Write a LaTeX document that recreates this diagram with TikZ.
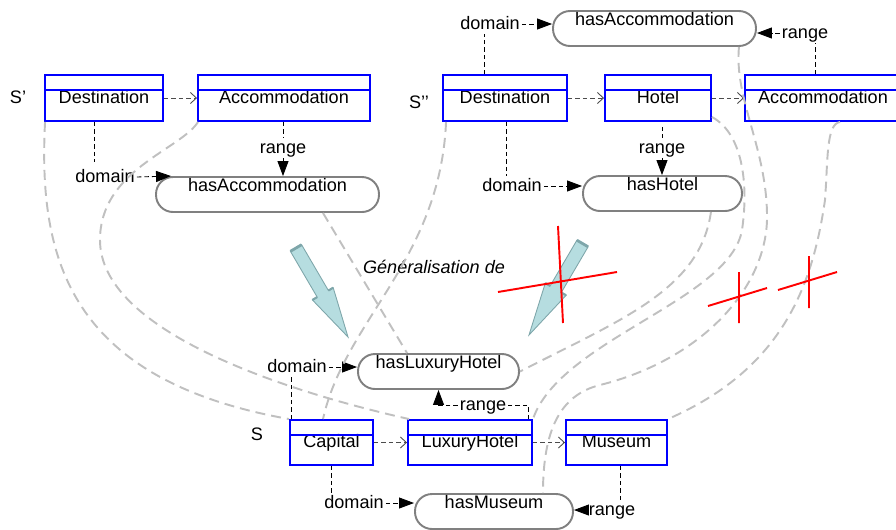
\documentclass[tikz,border=0pt]{standalone}
\usepackage{fontspec}
\setmainfont{Liberation Sans}
\usepackage{tikz}
\usetikzlibrary{arrows.meta}

\definecolor{mapgray}{RGB}{192,192,192}
\definecolor{genfill}{RGB}{182,221,224}
\definecolor{genedge}{RGB}{126,166,170}

\tikzset{
  classbox/.style={draw=blue, line width=1.1pt, minimum height=0.92cm, inner sep=0pt, text height=0.26cm, text depth=0.06cm},
  prop/.style={draw=gray, line width=1.1pt, rounded corners=0.34cm, minimum height=0.7cm, inner ysep=0pt, text height=0.29cm, text depth=0.41cm},
  lbl/.style={inner sep=1pt, text height=0.26cm, text depth=0.06cm},
  link/.style={draw=black, line width=0.5pt, dash pattern=on 0.09cm off 0.06cm},
  assoc/.style={link, draw=black!70, -{Straight Barb[length=0.12cm, width=0.22cm]}},
  tolink/.style={link, -{Triangle[length=0.3cm, width=0.22cm]}},
  map/.style={draw=mapgray, line width=1.1pt, dash pattern=on 0.2cm off 0.12cm},
  genarrow/.style={fill=genfill, draw=genedge, line width=0.5pt},
  cross/.style={red, line width=1.1pt},
}

\begin{document}
\begin{tikzpicture}[x=0.02cm, y=-0.02cm, font=\fontsize{10.3pt}{12pt}\selectfont]
    \useasboundingbox (0,0) rectangle (896,529);

    % S'
    \node[lbl] (s1) at (18,98) {S’};
    \node[classbox, minimum width=2.36cm] (dest1) at (104,98) {Destination};
    \node[classbox, minimum width=3.44cm] (acc1) at (284,98) {Accommodation};
    \node[prop, minimum width=4.46cm] (hasacc1) at (267.5,194.5) {hasAccommodation};
    \node[lbl] (dom1) at (105,177) {domain};
    \node[lbl] (rng1) at (283,148) {range};

    % S''
    \node[lbl] (s2) at (419,103) {S’’};
    \node[classbox, minimum width=2.48cm] (dest2) at (505,98) {Destination};
    \node[classbox, minimum width=2.12cm] (hotel2) at (658,98) {Hotel};
    \node[classbox, minimum width=3.12cm] (acc2) at (823,98) {Accommodation};
    \node[prop, minimum width=4.06cm] (hasacc2) at (654.5,28.5) {hasAccommodation};
    \node[prop, minimum width=3.18cm] (hashotel2) at (662.5,193.5) {hasHotel};
    \node[lbl] (dom2) at (490,24) {domain};
    \node[lbl] (rng2) at (805,33) {range};
    \node[lbl] (dom3) at (512,186) {domain};
    \node[lbl] (rng3) at (662,148) {range};

    % S
    \node[lbl] (s0) at (257,435) {S};
    \node[classbox, minimum width=1.66cm, minimum height=0.9cm] (cap0) at (331.5,442.5) {Capital};
    \node[classbox, minimum width=2.48cm, minimum height=0.9cm] (lux0) at (470,442.5) {LuxuryHotel};
    \node[classbox, minimum width=2.02cm, minimum height=0.9cm] (mus0) at (616.5,442.5) {Museum};
    \node[prop, minimum width=3.22cm] (haslux0) at (438.5,371.5) {hasLuxuryHotel};
    \node[prop, minimum width=3.16cm] (hasmus0) at (494,511.5) {hasMuseum};
    \node[lbl] (dom4) at (297,367) {domain};
    \node[lbl] (rng4) at (483,405) {range};
    \node[lbl] (dom5) at (354,503) {domain};
    \node[lbl] (rng5) at (612,510) {range};

    \node[lbl] (gen) at (434,268) {\itshape Généralisation de};

    % class compartments
    \foreach \c in {dest1,acc1,dest2,hotel2,acc2,cap0,lux0,mus0}
        \draw[blue, line width=1.1pt] ([yshift=-0.31cm]\c.north west) -- ([yshift=-0.31cm]\c.north east);

    % associations
    \draw[assoc] (dest1) -- (acc1);
    \draw[assoc] (dest2) -- (hotel2);
    \draw[assoc] (hotel2) -- (acc2);
    \draw[assoc] (cap0) -- (lux0);
    \draw[assoc] (lux0) -- (mus0);

    % domain / range, S'
    \draw[link, shorten >=0.1cm] ([xshift=-0.22cm]dom1.north |- dest1.south) -- ([xshift=-0.22cm]dom1.north);
    \draw[tolink] (dom1.east) -- ([xshift=0.32cm]hasacc1.north west);
    \draw[link] (rng1.north |- acc1.south) -- (rng1.north);
    \draw[tolink] (rng1.south) -- (rng1.south |- hasacc1.north);

    % domain / range, S''
    \draw[link] ([xshift=-0.12cm]dom2.south |- dest2.north) -- ([xshift=-0.12cm]dom2.south);
    \draw[tolink] (dom2.east) -- (dom2.east -| hasacc2.west);
    \draw[link] ([xshift=0.2cm]rng2.south |- acc2.north) -- ([xshift=0.2cm]rng2.south);
    \draw[tolink] (rng2.west) -- (rng2.west -| hasacc2.east);
    \draw[link] ([xshift=-0.12cm]dom3.north |- dest2.south) -- ([xshift=-0.12cm]dom3.north);
    \draw[tolink] (dom3.east) -- (dom3.east -| hashotel2.west);
    \draw[link, shorten <=0.1cm] (rng3.north |- hotel2.south) -- (rng3.north);
    \draw[tolink] (rng3.south) -- (rng3.south |- hashotel2.north);

    % domain / range, S
    \draw[link] ([xshift=-0.12cm]dom4.south |- cap0.north) -- ([xshift=-0.12cm]dom4.south);
    \draw[tolink] (dom4.east) -- (dom4.east -| haslux0.west);
    \draw[link] ([xshift=-0.1cm]lux0.north east) |- (rng4.east);
    \draw[tolink] (rng4.west) -| (haslux0.south);
    \draw[link] (cap0.south) -- (cap0.south |- dom5.north);
    \draw[tolink] (dom5.east) -- (dom5.east -| hasmus0.west);
    \draw[link] ([xshift=0.16cm]rng5.north |- mus0.south) -- ([xshift=0.16cm]rng5.north);
    \draw[tolink] (rng5.west) -- (rng5.west -| hasmus0.east);

    % mappings S' -> S
    \draw[map] ([xshift=0.02cm]dest1.south west) .. controls (38,260) and (70,380) .. (cap0.north west);
    \draw[map] ([xshift=0.02cm]acc1.south west) .. controls (180,150) and (100,170) .. (100,240)
        .. controls (100,330) and (280,390) .. ([xshift=0.04cm]lux0.north west);
    \draw[map] ([xshift=1.11cm]hasacc1.south) -- ([xshift=-0.63cm]haslux0.north);

    % mappings S'' -> S
    \draw[map] ([xshift=0.08cm]dest2.south west) .. controls (440,260) and (345,320) .. ([xshift=-0.17cm]cap0.north);
    \draw[map] ([xshift=-0.64cm]hashotel2.south east) .. controls (700,290) and (620,320) .. (haslux0.east);
    \draw[map] ([yshift=0.1cm]hotel2.south east) .. controls (745,135) and (748,190) .. (742,230)
        .. controls (730,300) and (560,340) .. (lux0.north east);
    \draw[map] ([xshift=-0.36cm]hasacc2.south east) .. controls (734,100) and (768,150) .. (767,220)
        .. controls (765,290) and (700,360) .. (600,385) .. controls (560,395) and (543,430) .. ([xshift=0.98cm]hasmus0.north);
    \draw[map] ([xshift=0.34cm]acc2.south) .. controls (826,124) and (828,160) .. (825,200)
        .. controls (812,290) and (780,370) .. (mus0.north east);

    % generalisation arrows
    \filldraw[genarrow] (301.6,244.7) -- (328.4,290.5) -- (333.2,287.7) -- (348,337) -- (312.4,299.9) -- (317.2,297.1) -- (290.4,251.3) -- cycle;
    \draw[genedge, line width=1.6pt] (301.6,244.7) -- (290.4,251.3);
    \draw[genedge, line width=1.2pt] (328.4,290.5) -- (333.2,287.7) (312.4,299.9) -- (317.2,297.1);
    \filldraw[genarrow] (588.1,246.8) -- (561.3,292.5) -- (566.1,295.3) -- (529,335) -- (545.3,283.1) -- (550.1,285.9) -- (576.9,240.2) -- cycle;
    \draw[genedge, line width=1.6pt] (588.1,246.8) -- (576.9,240.2);
    \draw[genedge, line width=1.2pt] (561.3,292.5) -- (566.1,295.3) (545.3,283.1) -- (550.1,285.9);

    % crossed out
    \draw[cross] (558,226) -- (563,323) (498,292) -- (617,272);
    \draw[cross] (739,272) -- (739,323) (708,306) -- (767,288);
    \draw[cross] (809,256) -- (809,308) (778,290) -- (837,272);
\end{tikzpicture}
\end{document}
